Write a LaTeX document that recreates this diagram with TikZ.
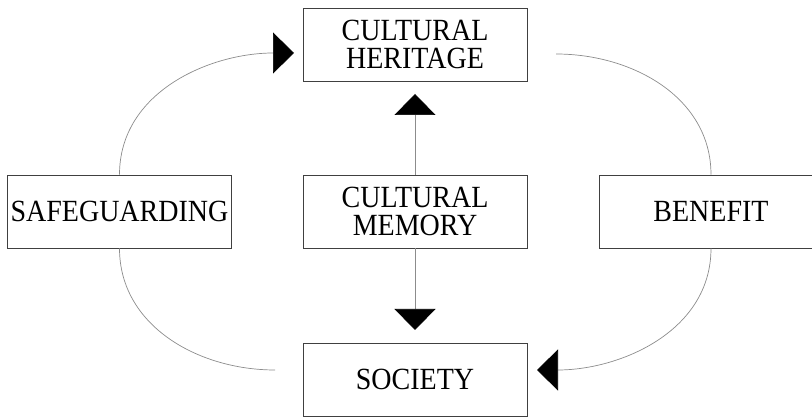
\documentclass[tikz,border=0pt]{standalone}
\usepackage{fontspec}
\setmainfont{Liberation Serif}
\usepackage{tikz}
\usetikzlibrary{arrows.meta, positioning}

\begin{document}
\begin{tikzpicture}[
            x=1pt, y=1pt,
            box/.style={rectangle, draw=black!75, line width=0.7pt, minimum width=224pt, minimum height=73pt, inner sep=0pt, align=center, font=\fontsize{28}{28}\selectfont},
            link/.style={draw=black!45, line width=0.7pt},
            arrow/.style={link, -{Triangle[length=21pt, width=41pt, color=black, fill=black]}}
        ]
            \useasboundingbox (0,0) rectangle (812,417);

            \node[box] (heritage) at (415,372.5) {\scalebox{1}[1.1]{CULTURAL}\\\scalebox{1}[1.1]{HERITAGE}};
            \node[box] (safe)     at (119.5,205.5) {\scalebox{1}[1.1]{SAFEGUARDING}};
            \node[box] (memory)   at (415,205.5) {\scalebox{1}[1.1]{CULTURAL}\\\scalebox{1}[1.1]{MEMORY}};
            \node[box] (benefit)  at (711,205.5) {\scalebox{1}[1.1]{BENEFIT}};
            \node[box] (society)  at (415,37.5)  {\scalebox{1}[1.1]{SOCIETY}};

            \coordinate (hin)  at (294,364);
            \coordinate (hout) at (556,363);
            \coordinate (sout) at (275,47);
            \coordinate (sin)  at (537,47);

            \draw[arrow] (memory) -- (415,323);
            \draw[arrow] (memory) -- (415,87);
            \draw[arrow] (safe.north) to[out=90, in=180] (hin);
            \draw[link]  (hout) to[out=0, in=90] (benefit.north);
            \draw[link]  (safe.south) to[out=-90, in=180] (sout);
            \draw[arrow] (benefit.south) to[out=-90, in=0] (sin);
        \end{tikzpicture}
\end{document}
